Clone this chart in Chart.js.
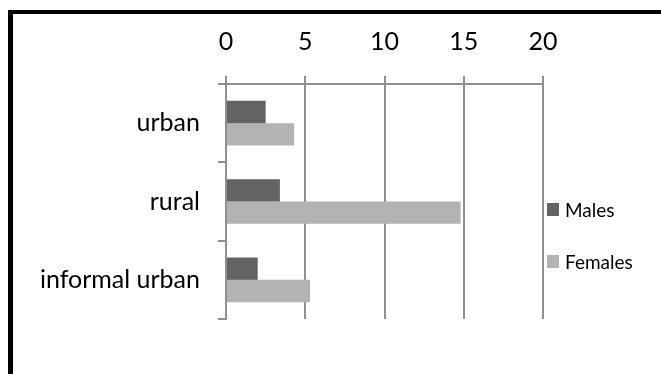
<!DOCTYPE html>
<html>
<head>
<meta charset="utf-8">
<script src="https://cdn.jsdelivr.net/npm/chart.js@4/dist/chart.umd.min.js"></script>
<style>
  html, body { margin: 0; padding: 0; background: #fff; }
  #wrap { width: 661px; height: 374px; position: relative; }
</style>
</head>
<body>
<div id="wrap"><canvas id="c" width="661" height="374"></canvas></div>
<script>
// Survey groups and values per sex
const categories = ['urban', 'rural', 'informal urban'];
const males = [2.5, 3.4, 2.0];
const females = [4.3, 14.8, 5.3];
const seriesNames = ['Males', 'Females'];
const xTicks = [0, 5, 10, 15, 20];

const FONT = 'Lato, "DejaVu Sans", sans-serif';
const GRID = '#909090';

// Black frame along the top and left edges
const framePlugin = {
  id: 'frame',
  beforeDraw(chart) {
    const ctx = chart.ctx;
    ctx.save();
    ctx.fillStyle = '#fff';
    ctx.fillRect(0, 0, chart.width, chart.height);
    ctx.fillStyle = '#000';
    ctx.fillRect(8, 10, chart.width - 8, 4);
    ctx.fillRect(8, 10, 5, chart.height - 10);
    ctx.restore();
  }
};

// Vertical legend to the right of the plot
const sideLegend = {
  id: 'sideLegend',
  afterDraw(chart) {
    const ctx = chart.ctx;
    const x0 = chart.chartArea.right + 4;
    const rows = [209.5, 261.5];
    ctx.save();
    ctx.font = '19px ' + FONT;
    ctx.textBaseline = 'middle';
    ctx.textAlign = 'left';
    chart.data.datasets.forEach((ds, i) => {
      const y = rows[i];
      ctx.fillStyle = ds.backgroundColor;
      ctx.fillRect(x0, y - 6.5, 12, 13);
      ctx.fillStyle = '#000';
      ctx.fillText(ds.label, x0 + 18, y + 1);
    });
    ctx.restore();
  }
};

new Chart(document.getElementById('c'), {
  type: 'bar',
  data: {
    labels: categories,
    datasets: [
      { label: seriesNames[0], data: males, backgroundColor: '#636363' },
      { label: seriesNames[1], data: females, backgroundColor: '#b3b3b3' }
    ]
  },
  options: {
    indexAxis: 'y',
    responsive: false,
    animation: false,
    devicePixelRatio: 1,
    layout: { padding: { left: 0, top: 0, right: 118, bottom: 55 } },
    datasets: { bar: { categoryPercentage: 0.57, barPercentage: 1.0 } },
    plugins: { legend: { display: false }, tooltip: { enabled: false } },
    scales: {
      x: {
        type: 'linear',
        position: 'top',
        min: xTicks[0],
        max: xTicks[xTicks.length - 1],
        afterBuildTicks(scale) { scale.ticks = xTicks.map(v => ({ value: v })); },
        afterFit(scale) { scale.height = 84; },
        ticks: { font: { family: FONT, size: 25 }, color: '#000', padding: 19, maxRotation: 0 },
        grid: { color: GRID, lineWidth: 2, tickLength: 8, drawOnChartArea: true },
        border: { display: true, color: GRID, width: 2 }
      },
      y: {
        type: 'category',
        afterFit(scale) { scale.width = 226; },
        ticks: { font: { family: FONT, size: 25 }, color: '#000', padding: 18 },
        grid: { offset: true, color: GRID, lineWidth: 2, tickLength: 8, drawOnChartArea: false },
        border: { display: true, color: GRID, width: 2 }
      }
    }
  },
  plugins: [framePlugin, sideLegend]
});
</script>
</body>
</html>
